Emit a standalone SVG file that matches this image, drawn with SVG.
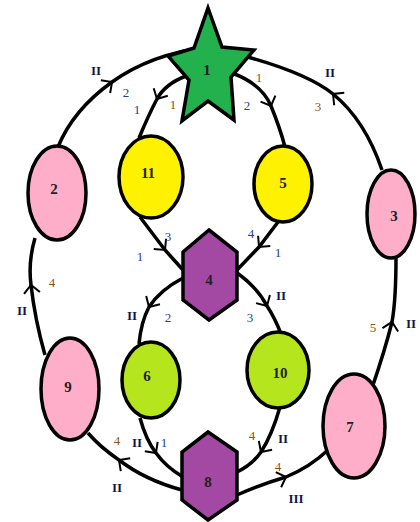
<svg xmlns="http://www.w3.org/2000/svg" width="420" height="522" viewBox="0 0 420 522">
<defs>
<style>
.e{fill:none;stroke:#000;stroke-width:3.5;marker-mid:url(#arr)}
.n{stroke:#000;stroke-width:3.5}
.pink{fill:#ffaec9}.yel{fill:#fff200}.grn{fill:#b5e61d}.pur{fill:#a349a4}.star{fill:#22b14c}
.nl{font-family:"Liberation Serif",serif;font-size:15px;font-weight:bold;text-anchor:middle;fill:#222}
.l{font-family:"Liberation Serif",serif;font-size:13px;text-anchor:middle}
.o{fill:#8a5412}.b{fill:#233f8f}.k{fill:#15154a;font-weight:bold}
</style>
<marker id="arr" viewBox="-10 -10 20 20" refX="0" refY="0" markerWidth="20" markerHeight="20" markerUnits="userSpaceOnUse" orient="auto">
<path d="M-8,-8 L0,0 L-8,8" fill="none" stroke="#000" stroke-width="2"/>
</marker>
</defs>
<rect width="420" height="522" fill="#fff"/>
<g id="connectors">
<path class="e" d="M58,147 Q73,110 112,82 T208,47"/>
<path class="e" d="M382,170 Q365,120 333,94 T208,47"/>
<path class="e" d="M186,76 Q165,84 157,99 T139,138"/>
<path class="e" d="M232,73 Q262,84 271,106 T285,147"/>
<path class="e" d="M140,217 L165,250 L183,270"/>
<path class="e" d="M278,222 L259,247 L237,270"/>
<path class="e" d="M183,278 Q160,290 149,307 Q141,322 139,344"/>
<path class="e" d="M236,272 Q258,288 267,306 Q275,318 281,334"/>
<path class="e" d="M140,418 Q146,440 156,453 Q166,467 183,477"/>
<path class="e" d="M182,490 Q145,480 119,460 Q100,447 88,433"/>
<path class="e" d="M280,407 Q272,435 261,452 Q252,465 237,472"/>
<path class="e" d="M237,495 Q262,484 286,477 Q310,467 328,450"/>
<path class="e" d="M372,388 Q385,350 392,322 Q396,300 396,257"/>
<path class="e" d="M45,355 Q35,320 31,285 Q28,262 35,238"/>
</g>
<g id="n1"><polygon class="n star" points="208,8 222,47 254,50 231,77 234,120 208,101 182,121 189,80 168,56 194,48"/><text class="nl" x="207" y="75">1</text></g>
<g id="n2"><ellipse class="n pink" cx="57" cy="193" rx="29" ry="47"/><text class="nl" x="54" y="194">2</text></g>
<g id="n3"><ellipse class="n pink" cx="391" cy="214" rx="24" ry="44"/><text class="nl" x="394" y="221">3</text></g>
<g id="n11"><ellipse class="n yel" cx="151" cy="177" rx="32" ry="41"/><text class="nl" x="148" y="178">11</text></g>
<g id="n5"><ellipse class="n yel" cx="283" cy="184" rx="29" ry="38"/><text class="nl" x="283" y="188">5</text></g>
<g id="n4"><polygon class="n pur" points="209,230 237,252 237,300 209,320 183,300 183,252"/><text class="nl" x="209" y="285">4</text></g>
<g id="n6"><ellipse class="n grn" cx="151" cy="380" rx="29" ry="38"/><text class="nl" x="147" y="381">6</text></g>
<g id="n10"><ellipse class="n grn" cx="278" cy="370" rx="31" ry="38"/><text class="nl" x="280" y="378">10</text></g>
<g id="n9"><ellipse class="n pink" cx="70" cy="389" rx="29" ry="51"/><text class="nl" x="68" y="392">9</text></g>
<g id="n7"><ellipse class="n pink" cx="354" cy="426" rx="31" ry="52"/><text class="nl" x="350" y="432">7</text></g>
<g id="n8"><polygon class="n pur" points="208,432 237,452 237,500 208,520 182,500 182,452"/><text class="nl" x="208" y="487">8</text></g>
<g id="labels">
<text class="l k" x="96" y="75">II</text>
<text class="l b" x="126" y="97">2</text>
<text class="l b" x="137" y="114">1</text>
<text class="l o" x="173" y="109">1</text>
<text class="l o" x="259" y="82">1</text>
<text class="l b" x="247" y="110">2</text>
<text class="l k" x="330" y="77">II</text>
<text class="l o" x="318" y="111">3</text>
<text class="l b" x="168" y="241">3</text>
<text class="l b" x="140" y="261">1</text>
<text class="l b" x="251" y="238">4</text>
<text class="l b" x="278" y="257">1</text>
<text class="l k" x="132" y="320">II</text>
<text class="l b" x="168" y="322">2</text>
<text class="l k" x="281" y="300">II</text>
<text class="l b" x="250" y="322">3</text>
<text class="l o" x="52" y="287">4</text>
<text class="l k" x="22" y="315">II</text>
<text class="l o" x="373" y="332">5</text>
<text class="l k" x="411" y="328">II</text>
<text class="l o" x="117" y="445">4</text>
<text class="l k" x="137" y="447">II</text>
<text class="l b" x="164" y="447">1</text>
<text class="l k" x="117" y="492">II</text>
<text class="l o" x="252" y="440">4</text>
<text class="l k" x="283" y="443">II</text>
<text class="l o" x="278" y="471">4</text>
<text class="l k" x="296" y="503">III</text>
</g>
</svg>
